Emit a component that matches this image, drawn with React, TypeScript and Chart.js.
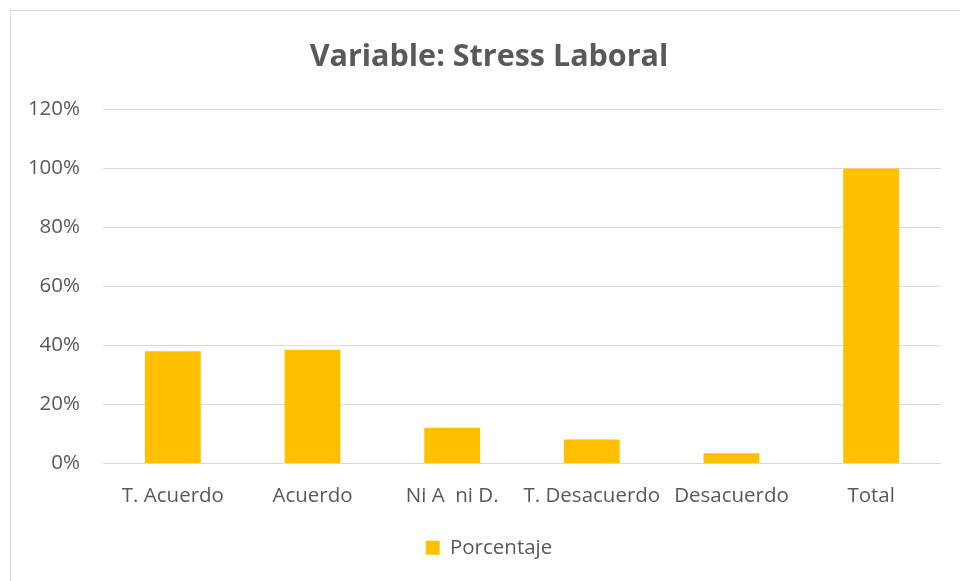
import React, { useEffect, useRef } from "react";
import { Chart, registerables } from "chart.js";

Chart.register(...registerables);

const categories = ["T. Acuerdo", "Acuerdo", "Ni A  ni D.", "T. Desacuerdo", "Desacuerdo", "Total"];
const porcentaje = [38.1, 38.6, 12.1, 8.1, 3.5, 100];
const yTicks = [0, 20, 40, 60, 80, 100, 120];
const seriesName = "Porcentaje";
const titleText = "Variable: Stress Laboral";

const FONT = "'Open Sans', 'Liberation Sans', sans-serif";
const TEXT = "#595959";
const GRID = "#d9d9d9";
const BAR = "#FFC000";

export default function App() {
  const ref = useRef<HTMLCanvasElement | null>(null);

  useEffect(() => {
    if (!ref.current) return;
    const chart = new Chart(ref.current, {
      type: "bar",
      data: {
        labels: categories,
        datasets: [
          {
            label: seriesName,
            data: porcentaje,
            backgroundColor: BAR,
            borderWidth: 0,
            barPercentage: 0.4,
            categoryPercentage: 1,
            yAxisID: "y",
          },
        ],
      },
      options: {
        animation: false,
        responsive: false,
        devicePixelRatio: 1,
        layout: { padding: { left: 18, right: 0, top: 0, bottom: 13 } },
        plugins: {
          tooltip: { enabled: false },
          title: {
            display: true,
            text: titleText,
            color: TEXT,
            font: { family: FONT, size: 30.5, weight: "bold" },
            padding: { top: 39, bottom: 34 },
          },
          legend: {
            display: true,
            position: "bottom",
            labels: {
              color: TEXT,
              font: { family: FONT, size: 20.5 },
              boxWidth: 14,
              boxHeight: 14,
              padding: 10,
            },
          },
        },
        scales: {
          x: {
            grid: { display: false, drawTicks: false },
            border: { display: false },
            ticks: {
              color: TEXT,
              font: { family: FONT, size: 20.5 },
              padding: 20,
              maxRotation: 0,
              autoSkip: false,
            },
            afterFit: (s: any) => {
              s.height = 64;
            },
          },
          y: {
            min: 0,
            max: 120,
            afterBuildTicks: (s: any) => {
              s.ticks = yTicks.map((v) => ({ value: v }));
            },
            grid: { color: GRID, lineWidth: 1, drawTicks: false },
            border: { display: false },
            ticks: {
              color: TEXT,
              font: { family: FONT, size: 20.5 },
              padding: 23,
              callback: (v: any) => v + "%",
            },
            afterFit: (s: any) => {
              s.width = 85;
            },
          },
          yRight: {
            position: "right",
            min: 0,
            max: 120,
            grid: { display: false, drawTicks: false },
            border: { display: false },
            ticks: { display: false },
            afterFit: (s: any) => {
              s.width = 19;
            },
          },
        },
      },
    });
    return () => chart.destroy();
  }, []);

  return (
    <div style={{ position: "absolute", left: 0, top: 0, width: 960, height: 581, background: "#fff" }}>
      <canvas ref={ref} width={960} height={581} style={{ display: "block", width: 960, height: 581 }} />
      <div
        style={{
          position: "absolute",
          left: 10,
          top: 10,
          width: 960,
          height: 600,
          border: "1px solid #d9d9d9",
          pointerEvents: "none",
        }}
      />
    </div>
  );
}
